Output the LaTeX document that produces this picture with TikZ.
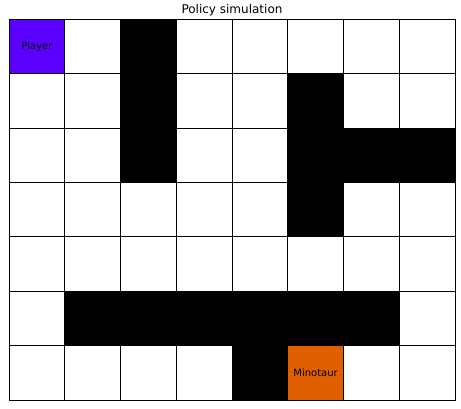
\documentclass[tikz,border=0pt]{standalone}
\usepackage{fontspec}
\setmainfont{DejaVu Sans}
\usepackage{xcolor}
\usepackage{tikz}
\usetikzlibrary{positioning}
\definecolor{playercol}{RGB}{90,0,255}
\definecolor{minocol}{RGB}{224,96,0}

\begin{document}
\begin{tikzpicture}[
        x=1pt, y=-1pt,
        cell/.style={
            rectangle, draw=black, line width=0.9pt,
            fill=white,
            minimum width=55.75pt, minimum height=54.36pt,
            inner sep=0pt, outer sep=0pt,
            font=\fontsize{10}{12}\selectfont
        },
        player/.style={cell, fill=playercol},
        minotaur/.style={cell, fill=minocol},
        wall/.style={fill=black}
    ]
    \useasboundingbox (0,0) rectangle (461,409);
    \node[font=\fontsize{12}{14}\selectfont] (title) at (232,10) {Policy simulation};
    % the maze grid
    \foreach \r in {0,...,6}
        \foreach \c in {0,...,7}
            \node[cell] (c-\r-\c) at ({9+55.75*(\c+0.5)},{19.5+54.36*(\r+0.5)}) {};
    % walls
    \foreach \r/\c in {0/2,1/2,2/2,1/5,2/5,2/6,2/7,3/5,5/1,5/2,5/3,5/4,5/5,5/6,6/4}
        \fill[wall] (c-\r-\c.north west) rectangle (c-\r-\c.south east);
    \node[player] (player) at (c-0-0) {Player};
    \node[minotaur] (minotaur) at (c-6-5) {Minotaur};
    \end{tikzpicture}
\end{document}
